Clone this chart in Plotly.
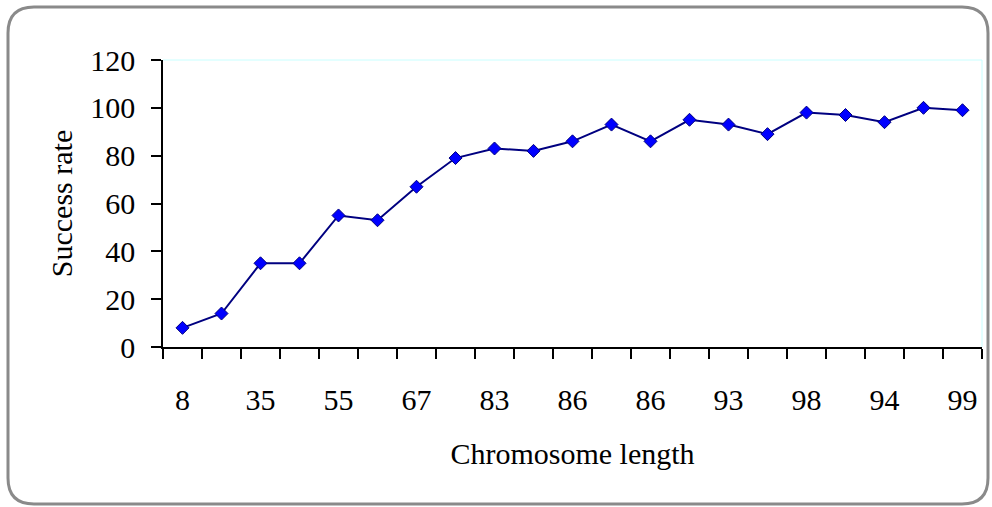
import plotly.graph_objects as go

categories = ["8", "14", "35", "35", "55", "53", "67", "79", "83", "82", "86",
              "93", "86", "95", "93", "89", "98", "97", "94", "100", "99"]
success_rate = [8, 14, 35, 35, 55, 53, 67, 79, 83, 82, 86,
                93, 86, 95, 93, 89, 98, 97, 94, 100, 99]
y_ticks = [0, 20, 40, 60, 80, 100, 120]

W, H = 992, 507
ML, MR, MT, MB = 163, 10, 60, 160

def px(x):
    return (x - ML) / (W - ML - MR)

def py(y):
    return 1 - (y - MT) / (H - MT - MB)

idx = list(range(len(categories)))
label_idx = idx[::2]

fig = go.Figure()
fig.add_trace(go.Scatter(
    x=idx, y=success_rate, mode="lines+markers",
    line=dict(color="#000080", width=2),
    marker=dict(symbol="diamond", size=10, color="#0000ff",
                line=dict(color="#000080", width=1)),
    showlegend=False, cliponaxis=False,
))

font = "Liberation Serif, Times New Roman, serif"

fig.update_layout(
    width=W, height=H,
    margin=dict(l=ML, r=MR, t=MT, b=MB),
    paper_bgcolor="white", plot_bgcolor="white",
    font=dict(family=font, size=30, color="black"),
    xaxis=dict(
        range=[-0.5, len(categories) - 0.5],
        tickvals=label_idx,
        ticktext=[categories[i] for i in label_idx],
        ticks="", showgrid=False, zeroline=False,
        showline=True, linecolor="black", linewidth=1.5,
        ticklabelstandoff=25,
        minor=dict(tickvals=[i - 0.5 for i in range(len(categories) + 1)],
                   ticks="outside", ticklen=10, tickcolor="black",
                   tickwidth=1.5, showgrid=False),
        title=dict(text="Chromosome length", standoff=28,
                   font=dict(family=font, size=30)),
    ),
    yaxis=dict(
        range=[0, 120], tickvals=y_ticks,
        ticks="outside", ticklen=10, tickcolor="black", tickwidth=1.5,
        showgrid=False, zeroline=False,
        showline=True, linecolor="black", linewidth=1.5,
        ticklabelstandoff=10,
        title=dict(text="Success rate", standoff=9,
                   font=dict(family=font, size=30)),
    ),
)

# light cyan top/right plot-area border
fig.add_shape(type="line", xref="paper", yref="paper", x0=0, x1=1, y0=1, y1=1,
              line=dict(color="#c8ffff", width=1))
fig.add_shape(type="line", xref="paper", yref="paper", x0=1, x1=1, y0=0, y1=1,
              line=dict(color="#c8ffff", width=1))

# rounded outer frame
x0, x1, y0, y1, r = 8, 988, 7, 504, 26
path = (f"M {px(x0 + r)},{py(y0)} L {px(x1 - r)},{py(y0)} "
        f"Q {px(x1)},{py(y0)} {px(x1)},{py(y0 + r)} "
        f"L {px(x1)},{py(y1 - r)} Q {px(x1)},{py(y1)} {px(x1 - r)},{py(y1)} "
        f"L {px(x0 + r)},{py(y1)} Q {px(x0)},{py(y1)} {px(x0)},{py(y1 - r)} "
        f"L {px(x0)},{py(y0 + r)} Q {px(x0)},{py(y0)} {px(x0 + r)},{py(y0)} Z")
fig.add_shape(type="path", xref="paper", yref="paper", path=path,
              line=dict(color="#8a8a8a", width=3), layer="below")

fig.write_html("out.html")
